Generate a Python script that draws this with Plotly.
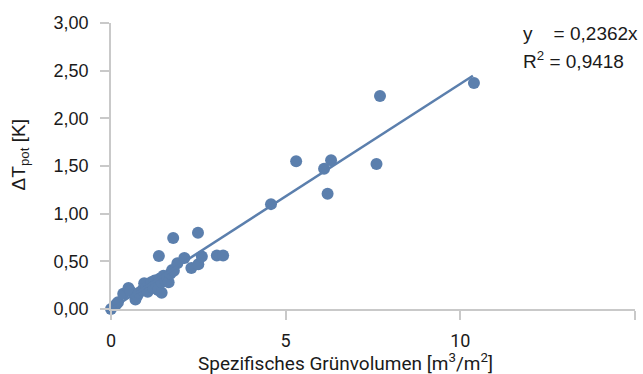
import plotly.graph_objects as go

x_vals = [0.0, 0.15, 0.2, 0.35, 0.5, 0.55, 0.7, 0.75, 0.8, 0.9, 0.95, 1.0, 1.05, 1.1, 1.15,
          1.2, 1.25, 1.3, 1.35, 1.4, 1.45, 1.45, 1.5, 1.55, 1.6, 1.65, 1.7, 1.75, 1.8,
          1.37, 1.78, 1.9, 2.1, 2.3, 2.5, 2.6, 2.49, 3.03, 3.21, 4.58, 5.30, 6.1, 6.2,
          6.3, 7.6, 7.7, 10.39]
y_vals = [0.00, 0.05, 0.07, 0.16, 0.22, 0.19, 0.10, 0.14, 0.17, 0.20, 0.27, 0.22, 0.18, 0.25, 0.28,
          0.22, 0.30, 0.26, 0.20, 0.32, 0.17, 0.28, 0.35, 0.30, 0.33, 0.28, 0.37, 0.41, 0.40,
          0.556, 0.745, 0.48, 0.535, 0.43, 0.47, 0.55, 0.80, 0.56, 0.56, 1.10, 1.55, 1.47, 1.21,
          1.56, 1.52, 2.235, 2.37]
slope = 0.2362
fit_x = [0.0, 10.36]
fit_y = [slope * v for v in fit_x]
x_ticks = [0, 5, 10, 15]
y_ticks = [0.0, 0.5, 1.0, 1.5, 2.0, 2.5, 3.0]
y_tick_text = ["0,00", "0,50", "1,00", "1,50", "2,00", "2,50", "3,00"]

color = "#5B7FAD"
axis_col = "#C9C9C9"
txt = "#1a1a1a"

fig = go.Figure()
fig.add_trace(go.Scatter(x=x_vals, y=y_vals, mode="markers",
                         marker=dict(size=12, color=color), cliponaxis=False,
                         showlegend=False, hoverinfo="skip"))
fig.add_trace(go.Scatter(x=fit_x, y=fit_y, mode="lines",
                         line=dict(color=color, width=2.5), cliponaxis=False,
                         showlegend=False, hoverinfo="skip"))

fig.update_layout(
    width=643, height=374,
    margin=dict(l=111, r=8, t=23, b=65),
    paper_bgcolor="white", plot_bgcolor="white",
    font=dict(family="Liberation Sans, Arial", size=17, color=txt),
    xaxis=dict(range=[0, 15], tickvals=x_ticks, showgrid=False, zeroline=False,
               showline=True, linecolor=axis_col, linewidth=1.5,
               ticks="outside", ticklen=9, tickcolor=axis_col, tickwidth=1.5,
               ticklabelstandoff=6,
               tickfont=dict(family="Roboto", size=18, color=txt)),
    yaxis=dict(range=[0, 3], tickvals=y_ticks, ticktext=y_tick_text, showgrid=False,
               zeroline=False, showline=True, linecolor=axis_col, linewidth=1.5,
               ticks="outside", ticklen=9, tickcolor=axis_col, tickwidth=1.5,
               ticklabelstandoff=8,
               tickfont=dict(family="Liberation Sans, Arial", size=18, color=txt)),
    annotations=[
        dict(text="Spezifisches Grünvolumen [m<sup>3</sup>/m<sup>2</sup>]", xref="paper", yref="paper",
             x=0.447, y=-0.188, xanchor="center", yanchor="middle", showarrow=False,
             font=dict(family="Roboto", size=19, color=txt)),
        dict(text="ΔT<sub>pot</sub> [K]", xref="paper", yref="paper", x=-0.174, y=0.54,
             xanchor="center", yanchor="middle", textangle=-90, showarrow=False,
             font=dict(family="Liberation Sans, Arial", size=19, color=txt)),
        dict(text="y\u00a0\u00a0\u00a0\u00a0= 0,2362x", xref="paper", yref="paper",
             x=0.782, y=0.965, xanchor="left", yanchor="middle", align="left", showarrow=False,
             font=dict(family="Liberation Sans, Arial", size=19, color=txt)),
        dict(text="R<sup>2</sup> = 0,9418", xref="paper", yref="paper",
             x=0.782, y=0.872, xanchor="left", yanchor="middle", align="left", showarrow=False,
             font=dict(family="Liberation Sans, Arial", size=19, color=txt)),
    ],
)
fig.write_html("out.html")
